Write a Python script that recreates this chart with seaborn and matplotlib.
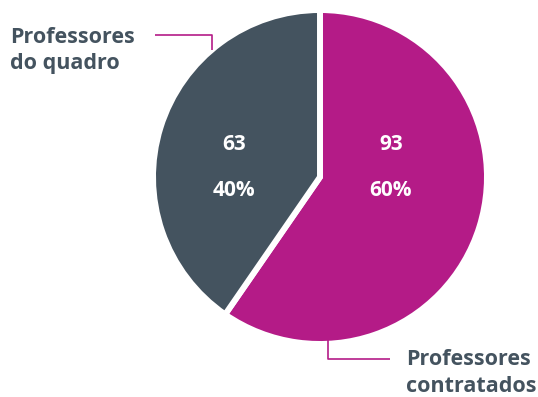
import matplotlib
matplotlib.use("Agg")
import matplotlib.pyplot as plt
import seaborn as sns

# Teacher counts by contract type
categories = ["Professores\ncontratados", "Professores\ndo quadro"]
counts = [93, 63]
percents = ["60%", "40%"]
colors = ["#B41B87", "#44535F"]
label_color = "#44535F"

sns.set_theme(style="white")
plt.rcParams["font.family"] = ["Open Sans", "DejaVu Sans"]

W, H = 538, 397
fig = plt.figure(figsize=(W / 100, H / 100), dpi=100)
ax = fig.add_axes([0, 0, 1, 1])

cx, cy, r = 320, H - 177, 167
ax.pie(counts, colors=colors, startangle=90, counterclock=False,
       center=(cx, cy), radius=r, frame=True,
       wedgeprops=dict(edgecolor="white", linewidth=4.3))
ax.set_xlim(0, W)
ax.set_ylim(0, H)
ax.set_aspect("equal")
ax.axis("off")

# Values and shares inside the wedges (baseline positions in pixels from top)
val_pos = [(391, 150, 196), (234, 150, 196)]
for (x, y1, y2), n, p in zip(val_pos, counts, percents):
    ax.text(x, H - y1, str(n), color="white", fontsize=15, fontweight="bold",
            ha="center", va="baseline")
    ax.text(x, H - y2, p, color="white", fontsize=15, fontweight="bold",
            ha="center", va="baseline")

# Leader lines
ax.plot([155, 212, 212], [H - 34.5, H - 34.5, H - 50], color="#B41B87", lw=1.2,
        solid_capstyle="butt")
ax.plot([327.5, 327.5, 390], [H - 338, H - 358.5, H - 358.5], color="#B41B87",
        lw=1.2, solid_capstyle="butt")

# Category labels, one line at a time
label_pos = [(406, 365), (10, 43)]
for (x, y), lab in zip(label_pos, categories):
    for i, line in enumerate(lab.split("\n")):
        ax.text(x, H - (y + 26.5 * i), line, color=label_color, fontsize=15.5,
                fontweight="bold", ha="left", va="baseline")

fig.savefig("out.png", dpi=100)
